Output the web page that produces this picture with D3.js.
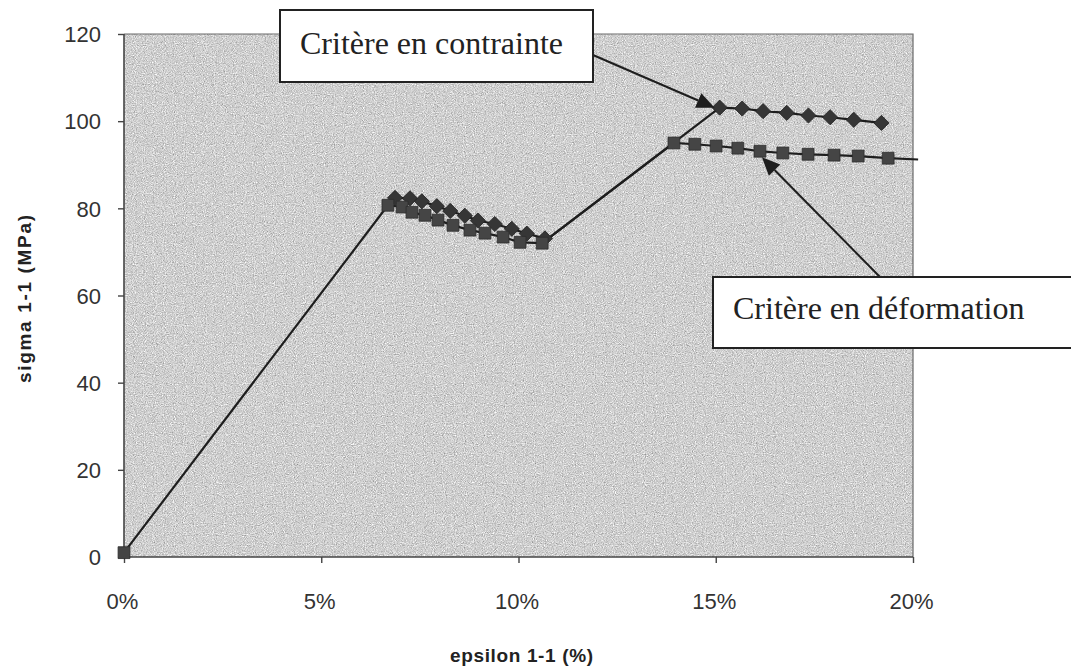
<!DOCTYPE html>
<html>
<head>
<meta charset="utf-8">
<script src="https://cdn.jsdelivr.net/npm/d3@7"></script>
<style>
  html, body { margin: 0; padding: 0; background: #fff; }
  svg { display: block; }
</style>
</head>
<body>
<svg id="chart" width="1071" height="672"></svg>
<script>
// strain (%) / stress (MPa) pairs
const deformation = [
  [0, 1],
  [6.69, 80.7], [7.05, 80.3], [7.30, 79.1], [7.63, 78.4], [7.96, 77.3],
  [8.34, 76.1], [8.77, 75.0], [9.15, 74.3], [9.61, 73.4], [10.04, 72.2], [10.60, 72.0],
  [13.94, 95.0], [14.47, 94.7], [15.01, 94.3], [15.56, 93.8], [16.12, 93.1],
  [16.70, 92.7], [17.34, 92.4], [18.00, 92.2], [18.61, 92.0], [19.37, 91.5]
];
const deformationTail = [20.13, 91.2];

const contrainte = [
  [6.87, 82.4], [7.25, 82.3], [7.55, 81.6], [7.93, 80.5], [8.27, 79.4],
  [8.64, 78.3], [8.97, 77.2], [9.40, 76.4], [9.83, 75.3], [10.21, 74.2], [10.67, 73.1],
  [15.10, 103.1], [15.67, 102.9], [16.20, 102.3], [16.80, 101.9], [17.35, 101.3],
  [17.90, 100.9], [18.50, 100.3], [19.20, 99.6]
];

const xTicks = [0, 5, 10, 15, 20];
const yTicks = [0, 20, 40, 60, 80, 100, 120];
const xTitle = "epsilon 1-1 (%)";
const yTitle = "sigma 1-1 (MPa)";
const labelContrainte = "Critère en contrainte";
const labelDeformation = "Critère en déformation";

const svg = d3.select("#chart");
const plotL = 124, plotR = 913, plotT = 34, plotB = 557;

const x = d3.scaleLinear().domain([0, 20]).range([plotL, plotR]);
const y = d3.scaleLinear().domain([0, 120]).range([plotB, plotT]);

// grainy grey fill of the plot area
const defs = svg.append("defs");
const f = defs.append("filter").attr("id", "grain")
  .attr("x", 0).attr("y", 0).attr("width", "100%").attr("height", "100%")
  .attr("color-interpolation-filters", "sRGB");
f.append("feTurbulence").attr("type", "fractalNoise").attr("baseFrequency", 0.9)
  .attr("numOctaves", 2).attr("seed", 7).attr("result", "n");
f.append("feColorMatrix").attr("type", "matrix")
  .attr("values", "0.33 0.33 0.33 0 0  0.33 0.33 0.33 0 0  0.33 0.33 0.33 0 0  0 0 0 0 1");
const ct = f.append("feComponentTransfer");
["feFuncR", "feFuncG", "feFuncB"].forEach(k =>
  ct.append(k).attr("type", "linear").attr("slope", 0.95).attr("intercept", 0.34));

svg.append("rect")
  .attr("x", plotL).attr("y", plotT)
  .attr("width", plotR - plotL).attr("height", plotB - plotT)
  .attr("fill", "#cdcdcd")
  .attr("filter", "url(#grain)");

// plot border (top and right)
svg.append("path")
  .attr("d", `M${plotL},${plotT}H${plotR}V${plotB}`)
  .attr("fill", "none").attr("stroke", "#6a6a6a").attr("stroke-width", 1.2);

// axes
const xAxis = d3.axisBottom(x).tickValues(xTicks).tickSize(6).tickFormat(d => d + "%");
const yAxis = d3.axisLeft(y).tickValues(yTicks).tickSize(6);

const gx = svg.append("g").attr("transform", `translate(0,${plotB})`).call(xAxis);
const gy = svg.append("g").attr("transform", `translate(${plotL},0)`).call(yAxis);

[gx, gy].forEach(g => {
  g.select(".domain").attr("stroke", "#444").attr("stroke-width", 1.6);
  g.selectAll(".tick line").attr("stroke", "#444").attr("stroke-width", 1.4);
  g.selectAll(".tick text")
    .attr("fill", "#333")
    .style("font-family", "'Liberation Sans', Arial, sans-serif")
    .style("font-size", "22px");
});
gx.selectAll(".tick text").attr("y", 0).attr("dy", 52).attr("dx", -2);
gy.selectAll(".tick text").attr("x", -23).attr("dy", "0.35em");
gx.select(".domain").attr("d", `M${plotL},0H${plotR}`);
gy.select(".domain").attr("d", `M0,${plotB}V${plotT}`);

// axis titles
svg.append("text")
  .attr("x", (plotL + plotR) / 2 + 3)
  .attr("y", 662)
  .attr("text-anchor", "middle")
  .attr("textLength", 143).attr("lengthAdjust", "spacing")
  .style("font-family", "'Liberation Sans', Arial, sans-serif")
  .style("font-size", "19px").style("font-weight", "bold")
  .attr("fill", "#222")
  .text(xTitle);

svg.append("text")
  .attr("transform", `translate(31,299) rotate(-90)`)
  .attr("text-anchor", "middle")
  .attr("textLength", 168).attr("lengthAdjust", "spacing")
  .style("font-family", "'Liberation Sans', Arial, sans-serif")
  .style("font-size", "19px").style("font-weight", "bold")
  .attr("fill", "#222")
  .text(yTitle);

// series lines
const line = d3.line().x(d => x(d[0])).y(d => y(d[1]));
const lineColor = "#1e1e1e";

svg.append("path")
  .datum(deformation.concat([deformationTail]))
  .attr("d", line)
  .attr("fill", "none").attr("stroke", lineColor).attr("stroke-width", 2.2);

svg.append("path")
  .datum(contrainte.slice(0, 11).concat([deformation[11]], contrainte.slice(11)))
  .attr("d", line)
  .attr("fill", "none").attr("stroke", lineColor).attr("stroke-width", 2.2);

// markers
svg.append("g").selectAll("path")
  .data(contrainte)
  .join("path")
  .attr("d", d3.symbol(d3.symbolSquare, 115)())
  .attr("transform", d => `translate(${x(d[0])},${y(d[1])}) rotate(45)`)
  .attr("fill", "#363636").attr("stroke", "#222").attr("stroke-width", 0.8);

svg.append("g").selectAll("path")
  .data(deformation)
  .join("path")
  .attr("d", d3.symbol(d3.symbolSquare, 140)())
  .attr("transform", d => `translate(${x(d[0])},${y(d[1])})`)
  .attr("fill", "#454545").attr("stroke", "#2c2c2c").attr("stroke-width", 0.8);

// annotation boxes with arrows
function arrow(x1, y1, x2, y2) {
  const ang = Math.atan2(y2 - y1, x2 - x1);
  const len = 18, half = 8;
  const bx = x2 - len * Math.cos(ang), by = y2 - len * Math.sin(ang);
  svg.append("line")
    .attr("x1", x1).attr("y1", y1).attr("x2", bx).attr("y2", by)
    .attr("stroke", "#1e1e1e").attr("stroke-width", 2);
  const px = -Math.sin(ang) * half, py = Math.cos(ang) * half;
  svg.append("path")
    .attr("d", `M${x2},${y2}L${bx + px},${by + py}L${bx - px},${by - py}Z`)
    .attr("fill", "#1e1e1e");
}

function labelBox(bx, by, bw, bh, tx, ty, txt) {
  svg.append("rect")
    .attr("x", bx).attr("y", by).attr("width", bw).attr("height", bh)
    .attr("fill", "#fff").attr("stroke", "#222").attr("stroke-width", 2);
  svg.append("text")
    .attr("x", tx).attr("y", ty)
    .style("font-family", "'Liberation Serif', 'Times New Roman', serif")
    .style("font-size", "32px")
    .attr("fill", "#222")
    .text(txt);
}

const c0 = contrainte[11];
arrow(593, 55, x(c0[0]) - 5, y(c0[1]));
labelBox(280, 10, 313, 72, 300, 54, labelContrainte);

const d0 = deformation[16];
arrow(880, 277, x(d0[0]) + 2, y(d0[1]) + 6);
labelBox(713, 277, 365, 71, 733, 319, labelDeformation);
</script>
</body>
</html>
